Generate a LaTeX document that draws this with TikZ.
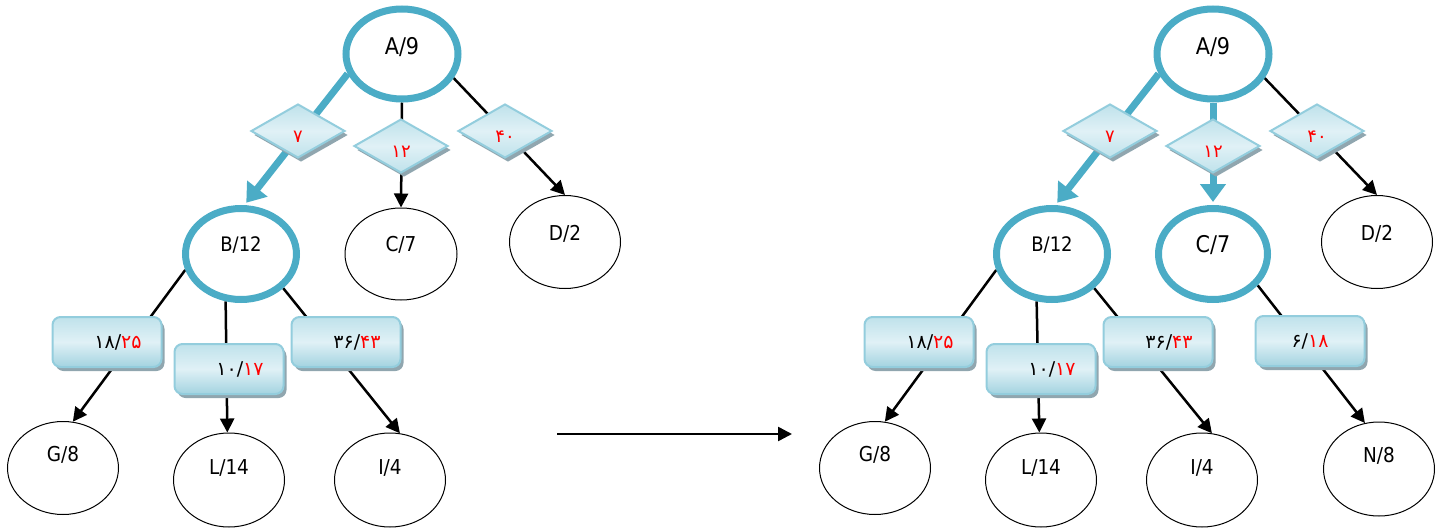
\documentclass[tikz,border=0pt]{standalone}
\usepackage{fontspec}
\setmainfont{DejaVu Sans Condensed}
\newfontfamily\digitfont{DejaVu Sans}
\usetikzlibrary{shapes.geometric,arrows.meta,shadows}

\definecolor{ringblue}{HTML}{4BACC6}
\definecolor{boxline}{HTML}{93CDDD}
\definecolor{boxlight}{HTML}{E0F1F6}
\definecolor{boxdark}{HTML}{A3D3E0}
\definecolor{boxmid}{HTML}{BFE2EB}
\definecolor{shadowgray}{HTML}{90A6AF}

\pgfdeclarelayer{edges}
\pgfsetlayers{edges,main}

\begin{document}
\begin{tikzpicture}[x=1pt,y=-1pt,
  ell/.style={ellipse, draw=black, line width=1pt, fill=white, inner sep=0pt,
    minimum width=111pt, minimum height=93pt},
  hot/.style={ell, draw=ringblue, line width=7pt},
  txt/.style 2 args={label={[font=\fontsize{20.5}{23}\selectfont, yshift=#2]center:#1}},
  bigtxt/.style 2 args={label={[font=\fontsize{23}{26}\selectfont, yshift=#2]center:#1}},
  midtxt/.style 2 args={label={[font=\fontsize{20}{23}\selectfont, yshift=#2]center:#1}},
  softshadow/.style={drop shadow={shadow xshift=3pt, shadow yshift=-4pt,
    fill=shadowgray, opacity=1}},
  diam/.style={diamond, draw=boxline, line width=2pt, inner sep=0pt,
    minimum width=94pt, minimum height=54pt, text height=22pt, text depth=0pt,
    top color=boxmid, bottom color=boxmid, middle color=boxlight,
    softshadow, text=red, font=\digitfont\fontsize{18}{20}\selectfont},
  cost/.style={rectangle, rounded corners=8pt, draw=boxline, line width=2pt,
    inner sep=0pt, minimum width=109pt, minimum height=50pt,
    top color=boxmid, bottom color=boxdark, middle color=boxlight,
    softshadow, font=\digitfont\fontsize{19}{21}\selectfont},
  link/.style={draw=black, line width=2.5pt, -{Triangle[length=14pt,width=14pt]}},
  hotlink/.style={draw=ringblue, line width=7pt, shorten >=3pt,
    -{Triangle[length=18pt,width=25pt]}}
]
\useasboundingbox (0,0) rectangle (1444,530);

% ---- first tree ----
\node[hot, minimum width=112pt, minimum height=90pt, bigtxt={A/9}{7pt}] (A) at (402,54) {};
\node[hot, minimum width=111pt, minimum height=91pt, midtxt={B/12}{9pt}] (B) at (241,254) {};
\node[ell, minimum width=112pt, minimum height=92pt, txt={C/7}{9pt}] (C) at (401,254) {};
\node[ell, txt={D/2}{8pt}] (D) at (565,242) {};
\node[ell, txt={G/8}{13pt}] (G) at (63,468) {};
\node[ell, minimum height=94pt, txt={L/14}{12pt}] (L) at (229,480) {};
\node[ell, minimum height=94pt, txt={I/4}{12pt}] (I) at (390,480) {};

\begin{pgfonlayer}{edges}
  \draw[hotlink] (A.200) -- (B.86);
  \draw[link] (A.270) -- (C.90);
  \draw[link] (A.335) -- (D.90);
  \draw[link] (B.196) -- (G.78);
  \draw[link] (B.252) -- (L.92);
  \draw[link] (B.321) -- (I.78);
\end{pgfonlayer}

\node[diam] (dAB) at (298,131) {۷};
\node[diam] (dAC) at (401,146) {۱۲};
\node[diam] (dAD) at (505,131) {۴۰};
\node[cost] (cBG) at (107,342) {\hspace*{22pt}۱۸/\textcolor{red}{۲۵}};
\node[cost] (cBL) at (229,369) {\hspace*{22pt}۱۰/\textcolor{red}{۱۷}};
\node[cost] (cBI) at (346,342) {\hspace*{22pt}۳۶/\textcolor{red}{۴۳}};

% ---- step arrow ----
\coordinate (from) at (557,434);
\coordinate (to) at (792,434);
\draw[link] (from) -- (to);

% ---- second tree ----
\node[hot, minimum width=112pt, minimum height=90pt, bigtxt={A/9}{7pt}] (A2) at (1213,54) {};
\node[hot, minimum width=111pt, minimum height=91pt, midtxt={B/12}{9pt}] (B2) at (1052,254) {};
\node[hot, minimum width=109pt, minimum height=91pt, bigtxt={C/7}{9pt}] (C2) at (1213,254) {};
\node[ell, txt={D/2}{8pt}] (D2) at (1377,242) {};
\node[ell, txt={G/8}{13pt}] (G2) at (875,468) {};
\node[ell, minimum height=94pt, txt={L/14}{12pt}] (L2) at (1041,480) {};
\node[ell, minimum height=94pt, txt={I/4}{12pt}] (I2) at (1202,480) {};
\node[ell, minimum height=94pt, txt={N/8}{13pt}] (N2) at (1379,469) {};

\begin{pgfonlayer}{edges}
  \draw[hotlink] (A2.200) -- (B2.86);
  \draw[hotlink] (A2.270) -- (C2.90);
  \draw[link] (A2.335) -- (D2.90);
  \draw[link] (B2.196) -- (G2.78);
  \draw[link] (B2.252) -- (L2.92);
  \draw[link] (B2.321) -- (I2.78);
  \draw[link] (C2.325) -- (N2.107);
\end{pgfonlayer}

\node[diam] (dAB2) at (1110,131) {۷};
\node[diam] (dAC2) at (1213,146) {۱۲};
\node[diam] (dAD2) at (1317,131) {۴۰};
\node[cost] (cBG2) at (919,342) {\hspace*{22pt}۱۸/\textcolor{red}{۲۵}};
\node[cost] (cBL2) at (1041,369) {\hspace*{22pt}۱۰/\textcolor{red}{۱۷}};
\node[cost] (cBI2) at (1158,342) {\hspace*{22pt}۳۶/\textcolor{red}{۴۳}};
\node[cost] (cCN2) at (1310,341) {۶/\textcolor{red}{۱۸}};
\end{tikzpicture}
\end{document}
